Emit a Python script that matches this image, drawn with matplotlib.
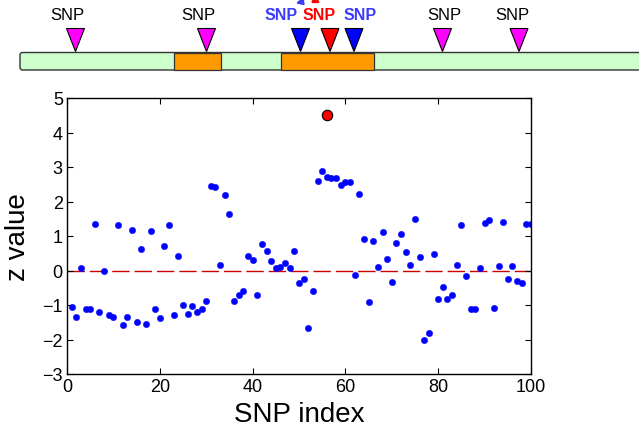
import numpy as np
import matplotlib
matplotlib.use("Agg")
import matplotlib.pyplot as plt
from matplotlib.patches import Rectangle, FancyBboxPatch, Polygon

plt.rcParams['font.family'] = ['Liberation Sans', 'DejaVu Sans']
plt.rcParams['lines.scale_dashes'] = False

# ---------------- data ----------------
snp_index = np.arange(1, 101)
z_values = [
    -1.05, -1.34, 0.08, -1.11, -1.11, 1.36, -1.20, -0.01, -1.28, -1.34,
    1.31, -1.59, -1.36, 1.17, -1.50, 0.62, -1.56, 1.15, -1.11, -1.39,
    0.70, 1.31, -1.28, 0.42, -1.00, -1.26, -1.03, -1.20, -1.11, -0.87,
    2.45, 2.41, 0.17, 2.19, 1.64, -0.87, -0.70, -0.59, 0.42, 0.31,
    -0.72, 0.77, 0.57, 0.27, 0.08, 0.11, 0.21, 0.08, 0.57, -0.37,
    -0.25, -1.66, -0.58, 2.59, 2.87, 2.72, 2.67, 2.69, 2.49, 2.56,
    2.56, -0.12, 2.21, 0.91, -0.90, 0.86, 0.11, 1.13, 0.34, -0.34,
    0.80, 1.05, 0.54, 0.16, 1.50, 0.39, -2.01, -1.81, 0.47, -0.83,
    -0.47, -0.83, -0.70, 0.16, 1.33, -0.17, -1.11, -1.11, 0.06, 1.38,
    1.45, -1.08, 0.14, 1.41, -0.25, 0.14, -0.29, -0.37, 1.36, 1.36,
]
causal_index = [56]
causal_z = [4.50]

x_ticks = [0, 20, 40, 60, 80, 100]
y_ticks = [-3, -2, -1, 0, 1, 2, 3, 4, 5]

# gene diagram (diagram coordinates)
gene_span = (20, 660)
exons = [(174, 220.5), (280.5, 374)]
snp_sites = [75.5, 206.5, 300.5, 330, 354, 442.5, 519]
snp_kind = ['other', 'other', 'tag', 'causal', 'tag', 'other', 'other']
snp_labels = ['SNP'] * 7

# ---------------- figure ----------------
fig = plt.figure(figsize=(6.39, 4.27), dpi=100)

# top gene diagram
axt = fig.add_axes([0, 1 - 80 / 427, 1, 80 / 427])
axt.set_xlim(0, 639)
axt.set_ylim(80, 0)
axt.axis('off')

bar_top, bar_bot = 53.5, 71
gene = FancyBboxPatch((gene_span[0], bar_top), gene_span[1] - gene_span[0], bar_bot - bar_top,
                      boxstyle="round,pad=0,rounding_size=2.5",
                      facecolor='#ccffcc', edgecolor='#333333', linewidth=1.0)
axt.add_patch(gene)
for a, b in exons:
    axt.add_patch(Rectangle((a, bar_top), b - a, bar_bot - bar_top,
                            facecolor='#ff9900', edgecolor='#333333', linewidth=0.9))

kind_color = {'other': '#ff00ff', 'tag': '#0000ff', 'causal': '#ff0000'}
kind_text = {'other': ('black', 'normal', 12), 'tag': ('#3b3bff', 'bold', 11.5),
             'causal': ('#ff0000', 'bold', 11.5)}
label_shift = [-8, -8, -19, -11, 6, 1.5, -7]
for s, k, lab, dx in zip(snp_sites, snp_kind, snp_labels, label_shift):
    tri = Polygon([[s - 9, 29.5], [s + 9, 29.5], [s, 52.5]], closed=True,
                  facecolor=kind_color[k], edgecolor='black', linewidth=0.8)
    axt.add_patch(tri)
    c, w, fs = kind_text[k]
    axt.text(s + dx, 15, lab, color=c, fontweight=w, fontsize=fs,
             ha='center', va='center')

# small curved arrows at top (linking tag SNPs to causal SNP)
axt.annotate('', xy=(293, 5), xytext=(307, -3),
             arrowprops=dict(arrowstyle='-|>', color='#3b3bff', lw=1.6,
                             mutation_scale=9, connectionstyle='arc3,rad=-0.2'),
             annotation_clip=False)
axt.annotate('', xy=(323, 5), xytext=(313, -3),
             arrowprops=dict(arrowstyle='-|>', color='#ff0000', lw=1.6,
                             mutation_scale=9, connectionstyle='arc3,rad=0.2'),
             annotation_clip=False)

# main scatter
ax = fig.add_axes([67 / 639, (427 - 375) / 427, 464 / 639, 276 / 427])
ax.plot([0, 100], [0, 0], color='#cc0000', linewidth=1.0, dashes=(12.5, 3.6), zorder=1)
ax.plot(snp_index, z_values, linestyle='none', marker='o', markersize=4.6,
        markerfacecolor='#0000ff', markeredgecolor='#0000ff', markeredgewidth=0.3, zorder=2)
ax.plot(causal_index, causal_z, linestyle='none', marker='o', markersize=7.5,
        markerfacecolor='#ff0000', markeredgecolor='black', markeredgewidth=0.8, zorder=3)

ax.set_xlim(0, 100)
ax.set_ylim(-3, 5)
ax.set_xticks(x_ticks)
ax.set_yticks(y_ticks)
ax.tick_params(direction='in', top=True, right=True, length=4, width=0.8,
               labelsize=13, pad=3)
for sp in ax.spines.values():
    sp.set_linewidth(1.0)
ax.set_xlabel('SNP index', fontsize=20, labelpad=4)
ax.set_ylabel('z value', fontsize=20, labelpad=8)

fig.savefig('out.png', dpi=100)
